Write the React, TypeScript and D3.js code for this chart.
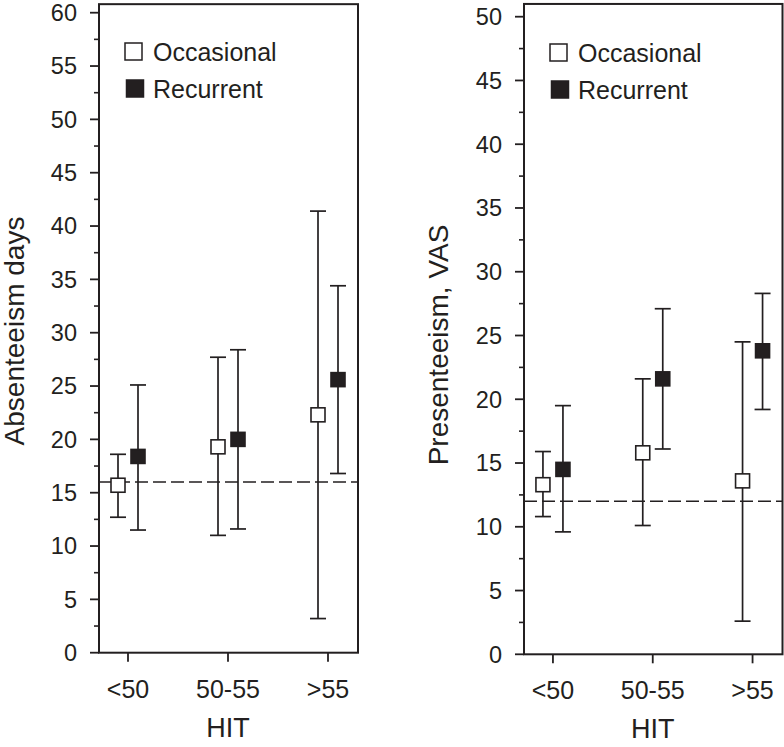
import React from "react";
import * as d3 from "d3";

const categories = ["<50", "50-55", ">55"];
const seriesNames = ["Occasional", "Recurrent"];

// Absenteeism days
const absOccMean = [15.7, 19.3, 22.3];
const absOccLow = [12.7, 11.0, 3.2];
const absOccHigh = [18.6, 27.7, 41.4];
const absRecMean = [18.4, 20.0, 25.6];
const absRecLow = [11.5, 11.6, 16.8];
const absRecHigh = [25.1, 28.4, 34.4];
const absRef = 16;
const absTicks = [0, 5, 10, 15, 20, 25, 30, 35, 40, 45, 50, 55, 60];

// Presenteeism VAS
const preOccMean = [13.3, 15.8, 13.6];
const preOccLow = [10.8, 10.1, 2.6];
const preOccHigh = [15.9, 21.6, 24.5];
const preRecMean = [14.5, 21.6, 23.8];
const preRecLow = [9.6, 16.1, 19.2];
const preRecHigh = [19.5, 27.1, 28.3];
const preRef = 12;
const preTicks = [0, 5, 10, 15, 20, 25, 30, 35, 40, 45, 50];

const INK = "#231f20";
const FONT = "'Liberation Sans', Arial, sans-serif";

type PanelProps = {
  left: number;
  right: number;
  y0: number;
  yTop: number;
  yMaxTick: number;
  frameTopVal: number;
  ticks: number[];
  occ: [number[], number[], number[]];
  rec: [number[], number[], number[]];
  ref: number;
  ylabel: string;
  ylabelX: number;
  ylabelY: number;
  legendX: number;
  legendY: number;
};

function Panel(p: PanelProps) {
  const x = d3.scaleLinear().domain([-0.29, 2.3]).range([p.left, p.right]);
  const y = d3.scaleLinear().domain([0, p.yMaxTick]).range([p.y0, p.yTop]);
  const top = y(p.frameTopVal);
  const bottom = y(0);
  const minor = d3.range(2.5, p.yMaxTick, 5);
  const off = 10;
  const cap = 8;
  const sq = 14;

  const drawSeries = (data: [number[], number[], number[]], dx: number, filled: boolean, key: string) =>
    categories.map((c, i) => {
      const cx = x(i) + dx;
      const [mean, lo, hi] = [data[0][i], data[1][i], data[2][i]];
      return (
        <g key={key + i}>
          <line x1={cx} x2={cx} y1={y(lo)} y2={y(hi)} stroke={INK} strokeWidth={1.7} />
          <line x1={cx - cap} x2={cx + cap} y1={y(lo)} y2={y(lo)} stroke={INK} strokeWidth={1.7} />
          <line x1={cx - cap} x2={cx + cap} y1={y(hi)} y2={y(hi)} stroke={INK} strokeWidth={1.7} />
          <rect
            x={cx - sq / 2}
            y={y(mean) - sq / 2}
            width={sq}
            height={sq}
            fill={filled ? INK : "#ffffff"}
            stroke={INK}
            strokeWidth={1.6}
          />
        </g>
      );
    });

  return (
    <g>
      <line
        x1={p.left}
        x2={p.right}
        y1={y(p.ref)}
        y2={y(p.ref)}
        stroke={INK}
        strokeWidth={1.5}
        strokeDasharray="13,5"
      />
      {drawSeries(p.occ, -off, false, "o")}
      {drawSeries(p.rec, off, true, "r")}
      <rect x={p.left} y={top} width={p.right - p.left} height={bottom - top} fill="none" stroke={INK} strokeWidth={2} />
      {p.ticks.map((t) => (
        <g key={"yt" + t}>
          <line x1={p.left - 9} x2={p.left} y1={y(t)} y2={y(t)} stroke={INK} strokeWidth={1.8} />
          <text
            x={p.left - 22}
            y={y(t)}
            dy="0.36em"
            textAnchor="end"
            fontSize={23.5}
            fontFamily={FONT}
            fill={INK}
          >
            {t}
          </text>
        </g>
      ))}
      {minor.map((t) => (
        <line key={"ym" + t} x1={p.left - 5} x2={p.left} y1={y(t)} y2={y(t)} stroke={INK} strokeWidth={1.6} />
      ))}
      {categories.map((c, i) => (
        <g key={"xt" + c}>
          <line x1={x(i)} x2={x(i)} y1={bottom} y2={bottom + 9} stroke={INK} strokeWidth={1.8} />
          <text x={x(i)} y={bottom + 45} textAnchor="middle" fontSize={25} fontFamily={FONT} fill={INK}>
            {c}
          </text>
        </g>
      ))}
      <text x={x(1)} y={bottom + 84} textAnchor="middle" fontSize={27} fontFamily={FONT} fill={INK}>
        HIT
      </text>
      <text
        transform={`translate(${p.ylabelX},${p.ylabelY}) rotate(-90)`}
        textAnchor="middle"
        fontSize={28}
        fontFamily={FONT}
        fill={INK}
      >
        {p.ylabel}
      </text>
      {seriesNames.map((s, i) => (
        <g key={"lg" + s} transform={`translate(${p.legendX},${p.legendY + i * 37})`}>
          <rect x={i === 0 ? 0 : 1.5} y={0} width={17} height={17} fill={i === 0 ? "#ffffff" : INK} stroke={INK} strokeWidth={1.5} />
          <text x={28} y={18} fontSize={25} fontFamily={FONT} fill={INK}>
            {s}
          </text>
        </g>
      ))}
    </g>
  );
}

export default function App() {
  return (
    <svg width={784} height={747} style={{ position: "absolute", left: 0, top: 0, background: "#fff" }}>
      <rect width={784} height={747} fill="#fff" />
      <Panel
        left={99}
        right={358}
        y0={652.7}
        yTop={12.7}
        yMaxTick={60}
        frameTopVal={60.8}
        ticks={absTicks}
        occ={[absOccMean, absOccLow, absOccHigh]}
        rec={[absRecMean, absRecLow, absRecHigh]}
        ref={absRef}
        ylabel="Absenteeism days"
        ylabelX={24}
        ylabelY={331}
        legendX={125}
        legendY={43}
      />
      <Panel
        left={524}
        right={782.5}
        y0={654.3}
        yTop={16.7}
        yMaxTick={50}
        frameTopVal={51}
        ticks={preTicks}
        occ={[preOccMean, preOccLow, preOccHigh]}
        rec={[preRecMean, preRecLow, preRecHigh]}
        ref={preRef}
        ylabel="Presenteeism, VAS"
        ylabelX={448}
        ylabelY={345}
        legendX={550}
        legendY={44}
      />
    </svg>
  );
}
